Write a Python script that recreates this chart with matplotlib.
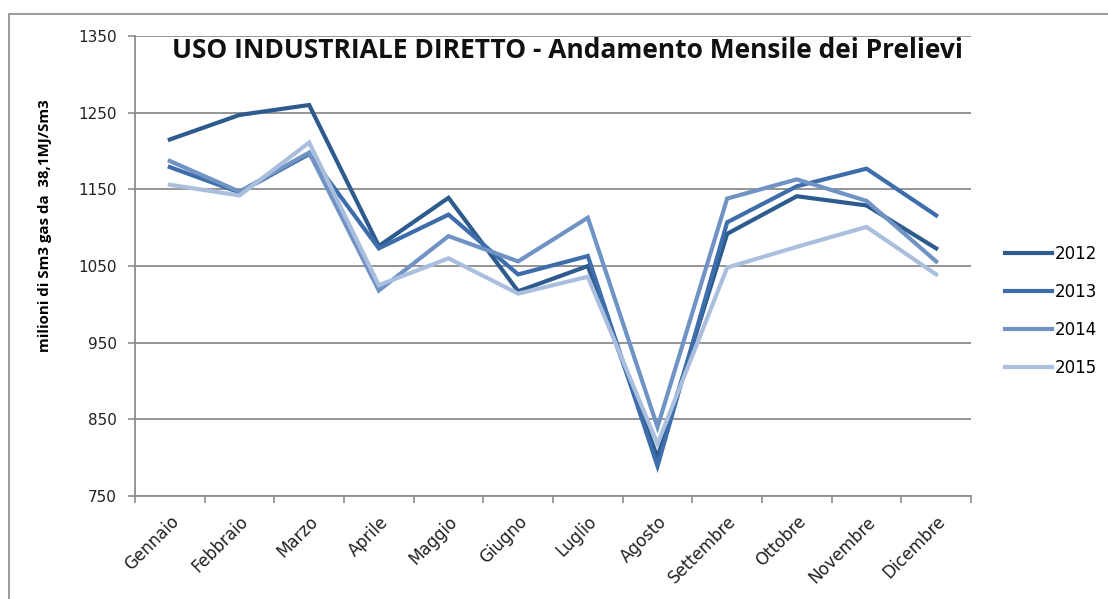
import matplotlib
matplotlib.use("Agg")
import matplotlib.pyplot as plt
import numpy as np
from matplotlib.patches import Rectangle

months = ["Gennaio", "Febbraio", "Marzo", "Aprile", "Maggio", "Giugno",
          "Luglio", "Agosto", "Settembre", "Ottobre", "Novembre", "Dicembre"]
years = ["2012", "2013", "2014", "2015"]
v2012 = [1215, 1247, 1260, 1076, 1139, 1017, 1050, 800, 1092, 1141, 1129, 1073]
v2013 = [1179, 1146, 1196, 1073, 1117, 1039, 1063, 789, 1107, 1154, 1177, 1116]
v2014 = [1187, 1147, 1198, 1018, 1089, 1056, 1113, 840, 1138, 1163, 1135, 1056]
v2015 = [1156, 1142, 1211, 1025, 1060, 1014, 1036, 818, 1048, 1075, 1101, 1039]
yticks = [750, 850, 950, 1050, 1150, 1250, 1350]
colors = ["#2E5B8E", "#3D6DAA", "#7093C6", "#AABFDE"]

plt.rcParams['font.family'] = ['DejaVu Sans']

fig = plt.figure(figsize=(11.08, 5.99), dpi=100)
fig.patches.append(Rectangle((9 / 1108, -0.1), 1.2, 1 - 14 / 599 + 0.1,
                             transform=fig.transFigure, fill=False,
                             edgecolor="#8a8a8a", linewidth=1.2))
ax = fig.add_axes([135 / 1108, 1 - 496 / 599, (971 - 135) / 1108, (496 - 36) / 599])

x = np.arange(len(months))
for vals, yr, c in zip([v2012, v2013, v2014, v2015], years, colors):
    ax.plot(x, vals, color=c, lw=3, label=yr, solid_joinstyle='miter')

ax.set_xlim(-0.5, len(months) - 0.5)
ax.set_ylim(750, 1350)
ax.set_yticks(yticks)
ax.set_yticklabels([str(t) for t in yticks], fontsize=11, color="#222222")
ax.yaxis.grid(True, color="#8c8c8c", lw=1.3)
ax.set_axisbelow(True)

ax.set_xticks(np.arange(-0.5, len(months)), labels=[""] * (len(months) + 1))
ax.set_xticks(x, minor=True)
ax.set_xticklabels(months, minor=True, rotation=45, ha='right', rotation_mode='anchor',
                   fontsize=12, color="#222222")
ax.tick_params(axis='x', which='minor', length=0, pad=12)
ax.tick_params(axis='x', which='major', length=5, color="#8c8c8c", width=1.2)
ax.tick_params(axis='y', length=5, color="#8c8c8c", width=1.2, pad=8)

for s in ['top', 'right']:
    ax.spines[s].set_visible(False)
for s in ['left', 'bottom']:
    ax.spines[s].set_color("#8c8c8c")
    ax.spines[s].set_linewidth(1.3)

fig.text(45 / 1108, 1 - 226 / 599, "milioni di Sm3 gas da  38,1MJ/Sm3", fontsize=10.8,
         fontweight='bold', rotation=90, ha='center', va='center',
         family=['Open Sans', 'DejaVu Sans'])

ax.text(0.5175, (496 - 58) / 460, "USO INDUSTRIALE DIRETTO - Andamento Mensile dei Prelievi",
        transform=ax.transAxes, ha='center', va='baseline', fontsize=19, fontweight='bold',
        color="#111111", family=['Open Sans', 'DejaVu Sans'])

leg = fig.legend(loc='upper left', bbox_to_anchor=(990 / 1108, 1 - 230 / 599),
                 frameon=False, fontsize=12, handlelength=2.8, handletextpad=0.2,
                 labelspacing=1.2)

fig.savefig("out.png", dpi=100)
